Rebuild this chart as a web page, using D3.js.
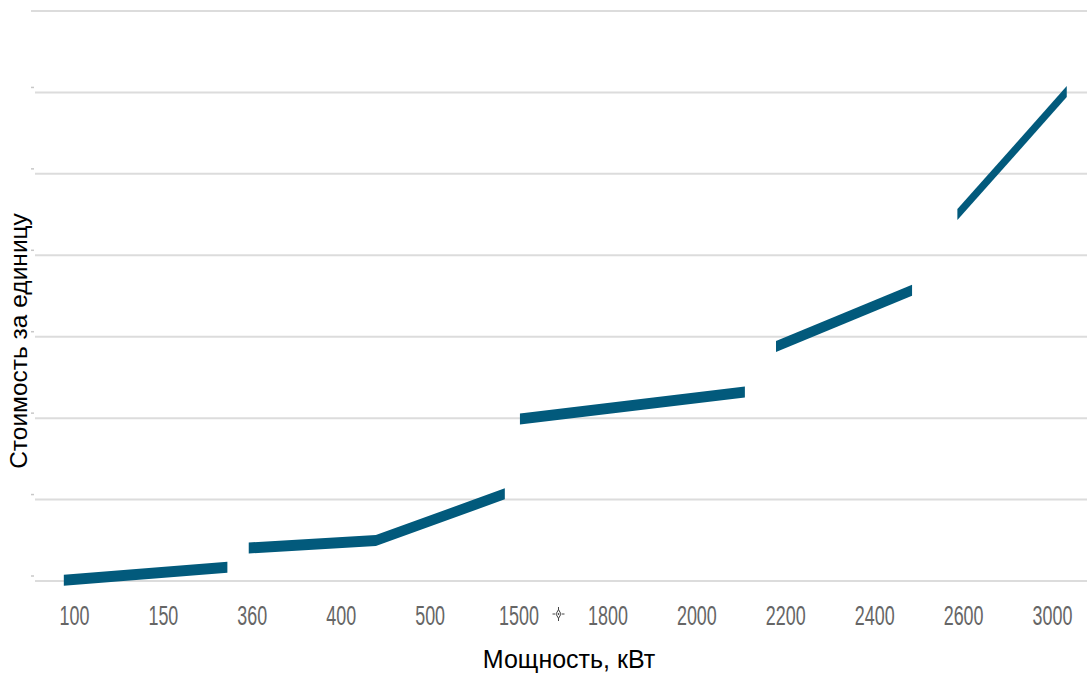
<!DOCTYPE html>
<html>
<head>
<meta charset="utf-8">
<script src="https://cdn.jsdelivr.net/npm/d3@7"></script>
<style>
  html, body { margin: 0; padding: 0; background: #ffffff; }
  svg { display: block; }
</style>
</head>
<body>
<svg id="chart" width="1087" height="675"></svg>
<script>
// ---- data ----
const categories = ["100", "150", "360", "400", "500", "1500", "1800", "2000", "2200", "2400", "2600", "3000"];
// each segment: positions along the category axis (in category-index units) and cost values
const segmentPos  = [[-0.12, 1.72], [1.96, 3.39, 4.84], [5.01, 7.54], [7.89, 9.42], [9.93, 11.16]];
const segmentCost = [[0.1, 1.7], [4.05, 4.97, 10.7], [19.9, 23.2], [28.8, 35.7], [45.0, 60.1]];
const yTicks = [0, 10, 20, 30, 40, 50, 60, 70];
const xTitle = "Мощность, кВт";
const yTitle = "Стоимость за единицу";

// ---- layout ----
const W = 1087, H = 675;
const plot = { left: 30, right: 1097, top: 11, bottom: 581 };
const svg = d3.select("#chart");

const xBand = d3.scaleBand().domain(categories).range([plot.left, plot.right]).padding(0);
const xLin = d3.scaleLinear()
  .domain([0, categories.length - 1])
  .range([xBand(categories[0]) + xBand.bandwidth() / 2,
          xBand(categories[categories.length - 1]) + xBand.bandwidth() / 2]);
const y = d3.scaleLinear().domain([0, 70]).range([plot.bottom, plot.top]);

// gridlines
svg.append("g").selectAll("line").data(yTicks).join("line")
  .attr("x1", d => d === 70 ? 31 : 35)
  .attr("x2", W)
  .attr("y1", d => y(d)).attr("y2", d => y(d))
  .attr("stroke", "#dcdcdc").attr("stroke-width", 2);

// tiny y tick dashes
svg.append("g").selectAll("line").data(yTicks.filter(d => d < 70)).join("line")
  .attr("x1", 31).attr("x2", 34)
  .attr("y1", d => y(d) - 5).attr("y2", d => y(d) - 5)
  .attr("stroke", "#c8c8c8").attr("stroke-width", 1.5);

// x axis labels
const xAxis = d3.axisBottom(xBand).tickSize(0).tickPadding(0);
const gx = svg.append("g").attr("transform", `translate(0,${plot.bottom})`).call(xAxis);
gx.select(".domain").remove();
gx.selectAll("text")
  .attr("y", 44).attr("dy", null)
  .attr("transform", "scale(0.64,1)")
  .attr("font-family", "Liberation Sans, Arial, sans-serif")
  .attr("font-size", 28)
  .attr("fill", "#666666");

// cursor artifact between 1500 and 1800 (small diamond with crosshair)
const cx = (xBand("1500") + xBand("1800")) / 2 + xBand.bandwidth() / 2 - 5;
const cy = 614;
const cur = svg.append("g").attr("transform", `translate(${cx},${cy})`);
cur.append("path")
  .attr("d", d3.symbol(d3.symbolDiamond, 22)())
  .attr("fill", "none").attr("stroke", "#444").attr("stroke-width", 1);
cur.append("path")
  .attr("d", "M0,-7V-4M0,4V7M-6,0H-3.5M3.5,0H6")
  .attr("stroke", "#444").attr("stroke-width", 1);
cur.append("circle").attr("r", 0.9).attr("fill", "#444");

// line segments (drawn as constant-thickness areas, vertical cut ends)
const half = 5.5;
const area = d3.area()
  .x(d => xLin(d.p))
  .y0(d => y(d.v) + half)
  .y1(d => y(d.v) - half);
const segData = segmentPos.map((ps, i) => ps.map((p, j) => ({ p: p, v: segmentCost[i][j] })));
svg.append("g").selectAll("path").data(segData).join("path")
  .attr("d", area)
  .attr("fill", "#025a7c");

// axis titles
svg.append("text")
  .attr("x", 569).attr("y", 668)
  .attr("text-anchor", "middle")
  .attr("font-family", "Liberation Sans, Arial, sans-serif")
  .attr("font-size", 25)
  .attr("fill", "#000")
  .text(xTitle);

svg.append("text")
  .attr("transform", "translate(27,341) rotate(-90)")
  .attr("text-anchor", "middle")
  .attr("font-family", "Liberation Sans, Arial, sans-serif")
  .attr("font-size", 24.5)
  .attr("fill", "#000")
  .text(yTitle);
</script>
</body>
</html>
